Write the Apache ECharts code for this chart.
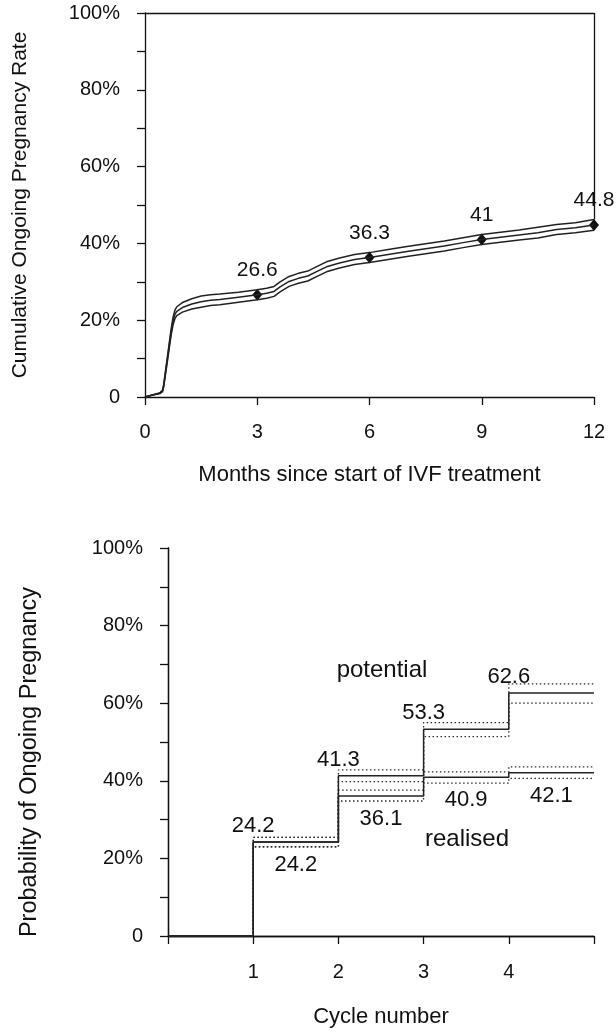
<!DOCTYPE html>
<html>
<head>
<meta charset="utf-8">
<title>Cumulative and per-cycle ongoing pregnancy</title>
<script src="https://cdn.jsdelivr.net/npm/echarts@6/dist/echarts.min.js"></script>
<style>
  html, body { margin: 0; padding: 0; background: #ffffff; }
  #chart { width: 616px; height: 1033px; }
</style>
</head>
<body>
<div id="chart"></div>
<script>
// ---- Upper panel: cumulative ongoing pregnancy rate by month (estimate with 95% band) ----
const monthPoints = [0, 0.2, 0.4, 0.47, 0.5, 0.55, 0.6, 0.65, 0.7, 0.75, 0.8, 0.85, 0.9, 1.0, 1.25, 1.5, 1.75, 2.0, 2.5, 3.0, 3.25, 3.45, 3.6, 3.85, 4.1, 4.35, 4.6, 4.85, 5.2, 5.6, 6.0, 6.5, 7.0, 7.5, 8.0, 8.5, 9.0, 9.5, 10.0, 10.5, 11.0, 11.5, 12.0];
const cumulativeRate = [0, 0.5, 1.0, 1.6, 3.0, 6.5, 10.0, 13.5, 17.0, 19.8, 21.5, 22.3, 22.8, 23.3, 24.2, 24.8, 25.2, 25.4, 26.0, 26.6, 27.0, 27.5, 28.6, 30.1, 30.9, 31.5, 32.7, 33.9, 34.9, 35.8, 36.3, 37.1, 37.9, 38.6, 39.3, 40.2, 41.0, 41.6, 42.2, 42.8, 43.6, 44.1, 44.8];
const cumulativeUpper = [0, 0.5, 1.1, 1.8, 3.3, 7.0, 10.6, 14.2, 17.8, 20.8, 22.6, 23.5, 24.0, 24.6, 25.6, 26.3, 26.6, 26.8, 27.3, 27.9, 28.3, 28.8, 29.9, 31.4, 32.2, 32.8, 34.0, 35.2, 36.2, 37.1, 37.6, 38.4, 39.2, 39.9, 40.6, 41.5, 42.3, 42.9, 43.5, 44.2, 44.9, 45.4, 46.2];
const cumulativeLower = [0, 0.5, 0.9, 1.4, 2.7, 6.0, 9.4, 12.8, 16.2, 18.8, 20.4, 21.2, 21.7, 22.1, 22.9, 23.4, 23.8, 24.0, 24.7, 25.3, 25.7, 26.2, 27.3, 28.8, 29.6, 30.2, 31.4, 32.6, 33.6, 34.5, 35.0, 35.8, 36.6, 37.3, 38.0, 38.9, 39.7, 40.3, 40.9, 41.4, 42.3, 42.8, 43.4];
const markedMonths = [3, 6, 9, 12];
const markedRates = [26.6, 36.3, 41, 44.8];
const monthTicks = [0, 3, 6, 9, 12];

// ---- Lower panel: probability of ongoing pregnancy by cycle number ----
const cycleNumbers = [1, 2, 3, 4];
const potentialPct = [24.2, 41.3, 53.3, 62.6];
const potentialUpper = [25.4, 42.8, 55.0, 65.0];
const potentialLower = [23.0, 39.8, 51.4, 60.0];
const realisedPct = [24.2, 36.1, 40.9, 42.1];
const realisedUpper = [25.4, 37.6, 42.3, 43.6];
const realisedLower = [23.0, 34.8, 39.4, 40.6];
const cycleTickLabels = ['1', '2', '3', '4'];

const FONT = "'Liberation Sans', Arial, sans-serif";
const INK = '#111111';
const LINE = '#222222';
const DOTS = '#2a2a2a';

function pctLabel(v) {
  if (v === 0) return '0';
  return v % 20 === 0 ? v + '%' : '';
}
function pairs(xs, ys) { return xs.map((x, i) => [x, ys[i]]); }
// staircase from zero at cycle 0 through each cycle, held to the end of the axis
function stairs(values) {
  const pts = [[0, 0]].concat(pairs(cycleNumbers, values));
  pts.push([cycleNumbers[cycleNumbers.length - 1] + 1, values[values.length - 1]]);
  return pts;
}

const chart = echarts.init(document.getElementById('chart'), null, { renderer: 'canvas' });

const axisLineStyle = { lineStyle: { color: INK, width: 1.3 } };
const tickStyle = { show: true, length: 8, lineStyle: { color: INK, width: 1.3 } };
const tickFont = { fontSize: 20, color: INK, fontFamily: FONT };

const lastIdx = monthPoints.length - 1;

const option = {
  animation: false,
  backgroundColor: '#ffffff',
  textStyle: { fontFamily: FONT, color: INK },
  grid: [
    { left: 145, top: 13, width: 449, height: 384 },
    { left: 168, top: 548, width: 426, height: 388 }
  ],
  xAxis: [
    {
      gridIndex: 0, type: 'value', min: 0, max: 12, interval: 3,
      axisLine: axisLineStyle, axisTick: tickStyle, splitLine: { show: false },
      axisLabel: Object.assign({ margin: 25, formatter: v => monthTicks.includes(v) ? String(v) : '' }, tickFont),
      name: 'Months since start of IVF treatment', nameLocation: 'middle', nameGap: 67,
      nameTextStyle: { fontSize: 22, color: INK, fontFamily: FONT }
    },
    {
      gridIndex: 0, type: 'value', min: 0, max: 12, position: 'top',
      axisLine: axisLineStyle, axisTick: { show: false }, axisLabel: { show: false }, splitLine: { show: false }
    },
    {
      gridIndex: 1, type: 'value', min: 0, max: 5, interval: 1,
      axisLine: axisLineStyle, axisTick: tickStyle, splitLine: { show: false },
      axisLabel: Object.assign({ margin: 26, formatter: v => cycleTickLabels.includes(String(v)) ? String(v) : '' }, tickFont),
      name: 'Cycle number', nameLocation: 'middle', nameGap: 70,
      nameTextStyle: { fontSize: 22, color: INK, fontFamily: FONT }
    },
    {
      gridIndex: 1, type: 'value', min: 0, max: 5, position: 'top',
      axisLine: axisLineStyle, axisTick: { show: false }, axisLabel: { show: false }, splitLine: { show: false }
    }
  ],
  yAxis: [
    {
      gridIndex: 0, type: 'value', min: 0, max: 100, interval: 10,
      axisLine: { show: true, lineStyle: { color: INK, width: 1.3 } }, axisTick: tickStyle, splitLine: { show: false },
      axisLabel: Object.assign({ margin: 25, formatter: pctLabel }, tickFont),
      name: 'Cumulative Ongoing Pregnancy Rate', nameLocation: 'middle', nameGap: 114,
      nameTextStyle: { fontSize: 21, color: INK, fontFamily: FONT }
    },
    {
      gridIndex: 1, type: 'value', min: 0, max: 100, interval: 10,
      axisLine: { show: true, lineStyle: { color: INK, width: 1.3 } }, axisTick: tickStyle, splitLine: { show: false },
      axisLabel: Object.assign({ margin: 25, formatter: pctLabel }, tickFont),
      name: 'Probability of Ongoing Pregnancy', nameLocation: 'middle', nameGap: 126,
      nameTextStyle: { fontSize: 23.5, color: INK, fontFamily: FONT, padding: [0, 40, 0, 0] }
    },
    {
      gridIndex: 1, type: 'value', min: 0, max: 100, position: 'right',
      axisLine: { show: true, lineStyle: { color: INK, width: 1.3 } }, axisTick: { show: false },
      axisLabel: { show: false }, splitLine: { show: false }
    }
  ],
  series: [
    // upper panel: confidence band edges and estimate
    {
      type: 'line', xAxisIndex: 0, yAxisIndex: 0, data: pairs(monthPoints, cumulativeUpper),
      showSymbol: false, symbol: 'none', lineStyle: { color: LINE, width: 1.5 },
      markLine: {
        silent: true, symbol: 'none', label: { show: false },
        lineStyle: { color: INK, width: 1.3, type: 'solid' },
        data: [[{ coord: [monthPoints[lastIdx], cumulativeUpper[lastIdx]] }, { coord: [monthPoints[lastIdx], 100] }]]
      }
    },
    {
      type: 'line', xAxisIndex: 0, yAxisIndex: 0, data: pairs(monthPoints, cumulativeRate),
      showSymbol: false, symbol: 'none', lineStyle: { color: LINE, width: 1.5 }
    },
    {
      type: 'line', xAxisIndex: 0, yAxisIndex: 0, data: pairs(monthPoints, cumulativeLower),
      showSymbol: false, symbol: 'none', lineStyle: { color: LINE, width: 1.5 }
    },
    {
      type: 'scatter', xAxisIndex: 0, yAxisIndex: 0, data: pairs(markedMonths, markedRates),
      symbol: 'diamond', symbolSize: [10, 12], itemStyle: { color: '#111111', opacity: 1 },
      label: { show: true, position: 'top', distance: 8, fontSize: 21, color: INK, fontFamily: FONT,
        formatter: p => String(p.value[1]) }
    },
    // lower panel: realised and potential, each with its confidence limits
    {
      type: 'line', xAxisIndex: 2, yAxisIndex: 1, step: 'end', data: stairs(potentialUpper),
      showSymbol: false, symbol: 'none', lineStyle: { color: DOTS, width: 1.3, type: [1.5, 2.5] }
    },
    {
      type: 'line', xAxisIndex: 2, yAxisIndex: 1, step: 'end', data: stairs(potentialLower),
      showSymbol: false, symbol: 'none', lineStyle: { color: DOTS, width: 1.3, type: [1.5, 2.5] }
    },
    {
      type: 'line', xAxisIndex: 2, yAxisIndex: 1, step: 'end', data: stairs(realisedUpper),
      showSymbol: false, symbol: 'none', lineStyle: { color: DOTS, width: 1.3, type: [1.5, 2.5] }
    },
    {
      type: 'line', xAxisIndex: 2, yAxisIndex: 1, step: 'end', data: stairs(realisedLower),
      showSymbol: false, symbol: 'none', lineStyle: { color: DOTS, width: 1.3, type: [1.5, 2.5] }
    },
    {
      type: 'line', xAxisIndex: 2, yAxisIndex: 1, step: 'end', data: stairs(potentialPct),
      showSymbol: false, symbol: 'none', lineStyle: { color: LINE, width: 1.5 }
    },
    {
      type: 'line', xAxisIndex: 2, yAxisIndex: 1, step: 'end', data: stairs(realisedPct),
      showSymbol: false, symbol: 'none', lineStyle: { color: LINE, width: 1.5 }
    },
    // value labels: potential above each step corner, realised below each step middle
    {
      type: 'scatter', xAxisIndex: 2, yAxisIndex: 1, data: pairs(cycleNumbers, potentialPct),
      symbol: 'circle', symbolSize: 0, itemStyle: { color: INK, opacity: 1 },
      label: { show: true, position: 'top', distance: 5, fontSize: 22, color: INK, fontFamily: FONT,
        formatter: p => p.value[1].toFixed(1) }
    },
    {
      type: 'scatter', xAxisIndex: 2, yAxisIndex: 1, data: cycleNumbers.map((c, i) => [c + 0.5, realisedPct[i]]),
      symbol: 'circle', symbolSize: 0, itemStyle: { color: INK, opacity: 1 },
      label: { show: true, position: 'bottom', distance: 12, fontSize: 22, color: INK, fontFamily: FONT,
        formatter: p => p.value[1].toFixed(1) }
    }
  ],
  graphic: [
    { type: 'text', x: 382, y: 670, style: { text: 'potential', fontSize: 24, fontFamily: FONT, fill: INK, align: 'center', verticalAlign: 'middle' } },
    { type: 'text', x: 467, y: 839, style: { text: 'realised', fontSize: 24, fontFamily: FONT, fill: INK, align: 'center', verticalAlign: 'middle' } }
  ]
};

chart.setOption(option);
</script>
</body>
</html>
